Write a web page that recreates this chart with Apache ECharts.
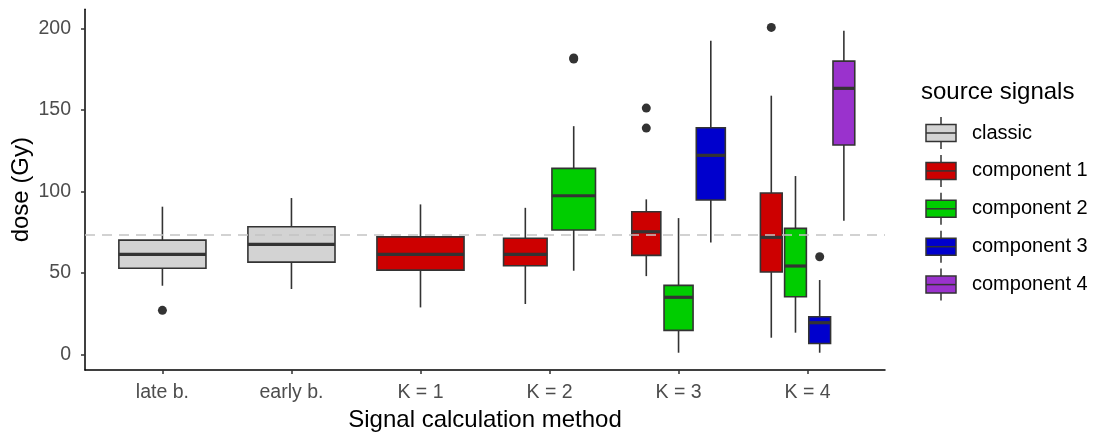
<!DOCTYPE html>
<html><head><meta charset="utf-8">
<script src="https://cdn.jsdelivr.net/npm/echarts@6/dist/echarts.min.js"></script>
<style>html,body{margin:0;padding:0;background:#fff}#c{width:1093px;height:434px}</style>
</head><body><div id="c"></div>
<script>
// ---- data ----
const categories = ['late b.', 'early b.', 'K = 1', 'K = 2', 'K = 3', 'K = 4'];
const groupNames = ['classic', 'component 1', 'component 2', 'component 3', 'component 4'];
const groupColors = ['#D3D3D3', '#CD0000', '#00CD00', '#0000CD', '#9A32CD'];
// [lower whisker, q1, median, q3, upper whisker] per category (null = absent)
const classicStats = [[42.1, 52.8, 61.3, 70.1, 90.6], [40.1, 56.6, 67.5, 78.3, 95.9], null, null, null, null];
const comp1Stats = [null, null, [28.8, 51.7, 61.3, 72.1, 92.0], [30.9, 54.4, 61.3, 71.2, 89.9], [48.0, 60.7, 75.2, 87.5, 95.1], [10.2, 50.5, 71.8, 99.0, 158.7]];
const comp2Stats = [null, null, null, [51.3, 76.3, 97.3, 114.1, 140.0], [1.0, 14.7, 35.0, 42.3, 83.6], [13.3, 35.3, 54.2, 77.3, 109.4]];
const comp3Stats = [null, null, null, null, [68.7, 94.7, 122.1, 139.0, 192.4], [1.0, 6.7, 19.4, 23.1, 45.6]];
const comp4Stats = [null, null, null, null, null, [82.0, 128.4, 163.2, 179.9, 198.5]];
// outliers per category
const classicOutliers = [[27.0], [], [], [], [], []];
const comp1Outliers = [[], [], [], [], [151.1, 138.8], [200.6]];
const comp2Outliers = [[], [], [], [181.2, 181.8], [], []];
const comp3Outliers = [[], [], [], [], [], [59.9]];
const comp4Outliers = [[], [], [], [], [], []];
const referenceDose = 73.2;
const yTickValues = [0, 50, 100, 150, 200];

// ---- build ----
const allStats = [classicStats, comp1Stats, comp2Stats, comp3Stats, comp4Stats];
const allOutliers = [classicOutliers, comp1Outliers, comp2Outliers, comp3Outliers, comp4Outliers];
const FONT = '"Liberation Sans", Arial, sans-serif';
const BOX_W = 0.75, PAD = 0.9;

// dodge slots per category
const slots = categories.map((c, ci) => allStats.map((s, gi) => s[ci] ? gi : -1).filter(g => g >= 0));
function dodgeCenter(ci, gi) {
  const present = slots[ci];
  const n = present.length, slot = present.indexOf(gi);
  const unit = BOX_W / n;
  return { cx: (ci + 1) - BOX_W / 2 + (slot + 0.5) * unit, hw: unit * PAD / 2 };
}

function renderBox(params, api) {
  const cx = api.value(0), hw = api.value(1);
  const lo = api.value(2), q1 = api.value(3), med = api.value(4), q3 = api.value(5), hi = api.value(6);
  const pTL = api.coord([cx - hw, q3]);
  const pBR = api.coord([cx + hw, q1]);
  const pMed = api.coord([cx, med]);
  const pLo = api.coord([cx, lo]);
  const pHi = api.coord([cx, hi]);
  const stroke = '#333333';
  const fill = api.visual('color');
  return {
    type: 'group',
    children: [
      { type: 'line', shape: { x1: pLo[0], y1: pLo[1], x2: pLo[0], y2: pBR[1] }, style: { stroke, lineWidth: 1.6 } },
      { type: 'line', shape: { x1: pHi[0], y1: pHi[1], x2: pHi[0], y2: pTL[1] }, style: { stroke, lineWidth: 1.6 } },
      { type: 'rect', shape: { x: pTL[0], y: pTL[1], width: pBR[0] - pTL[0], height: pBR[1] - pTL[1] }, style: { fill, stroke, lineWidth: 1.6 } },
      { type: 'line', shape: { x1: pTL[0], y1: pMed[1], x2: pBR[0], y2: pMed[1] }, style: { stroke, lineWidth: 3.2 } }
    ]
  };
}

const series = [];
groupNames.forEach((name, gi) => {
  const data = [];
  allStats[gi].forEach((s, ci) => {
    if (!s) return;
    const d = dodgeCenter(ci, gi);
    data.push([d.cx, d.hw].concat(s));
  });
  series.push({
    type: 'custom', name, renderItem: renderBox, data,
    itemStyle: { color: groupColors[gi] },
    encode: { x: 0, y: [2, 3, 4, 5, 6] }, z: 2, silent: true
  });
  const out = [];
  allOutliers[gi].forEach((vals, ci) => {
    if (!vals.length) return;
    const d = dodgeCenter(ci, gi);
    vals.forEach(v => out.push([d.cx, v]));
  });
  series.push({
    type: 'scatter', name: name + ' outliers', data: out, symbolSize: 9,
    itemStyle: { color: '#333333', opacity: 1 }, z: 3, silent: true
  });
});
series.push({
  type: 'scatter', data: [], z: 10, silent: true,
  markLine: {
    silent: true, symbol: 'none', label: { show: false }, animation: false,
    lineStyle: { type: [10, 7], color: '#C4C4C4', width: 1.5 },
    data: [{ yAxis: referenceDose }]
  }
});

// legend drawn as graphic
const legendX = 926, legendY0 = 133, legendStep = 37.9;
const graphics = [{
  type: 'text', left: 921, top: 80,
  style: { text: 'source signals', font: '24px ' + FONT, fill: '#000' }
}];
groupNames.forEach((name, gi) => {
  const cy = legendY0 + gi * legendStep;
  graphics.push({ type: 'line', shape: { x1: legendX + 15, y1: cy - 16, x2: legendX + 15, y2: cy + 16 }, style: { stroke: '#333', lineWidth: 1.5 } });
  graphics.push({ type: 'rect', shape: { x: legendX, y: cy - 8.5, width: 30, height: 17 }, style: { fill: groupColors[gi], stroke: '#333', lineWidth: 1.5 } });
  graphics.push({ type: 'line', shape: { x1: legendX, y1: cy, x2: legendX + 30, y2: cy }, style: { stroke: '#333', lineWidth: 1.5 } });
  graphics.push({ type: 'text', x: 972, y: cy, style: { text: name, font: '20px ' + FONT, fill: '#000', verticalAlign: 'middle' } });
});

const chart = echarts.init(document.getElementById('c'), null, { renderer: 'canvas' });
chart.setOption({
  animation: false,
  backgroundColor: '#fff',
  grid: { left: 85, right: 208, top: 9.3, bottom: 64, containLabel: false, outerBoundsMode: 'none' },
  xAxis: {
    type: 'value', min: 0.4, max: 6.6,
    axisLine: { show: true, onZero: false, lineStyle: { color: '#000', width: 1.5 } },
    axisTick: { show: true, length: 4, lineStyle: { color: '#333', width: 1.5 }, customValues: categories.map((c, i) => i + 1) },
    axisLabel: { customValues: categories.map((c, i) => i + 1), formatter: v => categories[Math.round(v) - 1], color: '#4D4D4D', fontSize: 19.5, fontFamily: FONT, margin: 13 },
    splitLine: { show: false },
    name: 'Signal calculation method', nameLocation: 'middle', nameGap: 38, nameMoveOverlap: false,
    nameTextStyle: { fontSize: 24, color: '#000', fontFamily: FONT }
  },
  yAxis: {
    type: 'value', min: -9.6, max: 211.7,
    axisLine: { show: true, onZero: false, lineStyle: { color: '#000', width: 1.5 } },
    axisTick: { show: true, length: 4, lineStyle: { color: '#333', width: 1.5 }, customValues: yTickValues },
    axisLabel: { customValues: yTickValues, color: '#4D4D4D', fontSize: 19.5, fontFamily: FONT, margin: 14 },
    splitLine: { show: false },
    name: 'dose (Gy)', nameLocation: 'middle', nameGap: 52, nameMoveOverlap: false,
    nameTextStyle: { fontSize: 24, color: '#000', fontFamily: FONT }
  },
  series,
  graphic: graphics
});
</script></body></html>
